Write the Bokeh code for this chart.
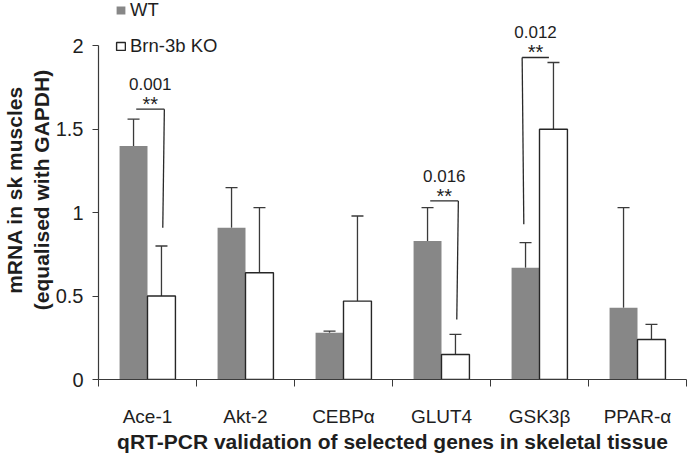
from bokeh.plotting import figure
from bokeh.models import (ColumnDataSource, Range1d, FixedTicker, Whisker, TeeHead,
                          Legend, LegendItem, LinearAxis)
from bokeh.core.properties import value
from bokeh.embed import file_html
from bokeh.resources import INLINE

# ---------------- data ----------------
genes = ["Ace-1", "Akt-2", "CEBPα", "GLUT4", "GSK3β", "PPAR-α"]
wt_mean = [1.40, 0.91, 0.28, 0.83, 0.67, 0.43]
wt_sd = [0.16, 0.24, 0.01, 0.20, 0.15, 0.60]
ko_mean = [0.50, 0.64, 0.47, 0.15, 1.50, 0.24]
ko_sd = [0.30, 0.39, 0.51, 0.12, 0.40, 0.09]
series_names = ["WT", "Brn-3b KO"]

y_ticks = [0, 0.5, 1, 1.5, 2]
y_tick_labels = ["0", "0.5", "1", "1.5", "2"]

sig_genes = ["Ace-1", "GLUT4", "GSK3β"]
sig_pvalues = ["0.001", "0.016", "0.012"]
sig_stars = ["**", "**", "**"]
sig_top = [1.62, 1.07, 1.93]
sig_bottom = [0.91, 0.36, 0.93]
sig_drop_side = ["KO", "KO", "WT"]

y_title = "mRNA in sk muscles\n(equalised with GAPDH)"
x_title = "qRT-PCR validation of selected genes in skeletal tissue"

# ---------------- styling ----------------
FONT = "Liberation Sans"
TXT = "#1e1e1e"
GREY = "#878787"
LINE = "#3a3a3a"
BAR_W = 0.285
HALF = BAR_W / 2

n = len(genes)
centers = [i + 0.5 for i in range(n)]

src = ColumnDataSource(dict(
    x_wt=[c - HALF for c in centers],
    x_ko=[c + HALF for c in centers],
    wt=wt_mean,
    ko=ko_mean,
    wt_hi=[m + s for m, s in zip(wt_mean, wt_sd)],
    ko_hi=[m + s for m, s in zip(ko_mean, ko_sd)],
))

p = figure(width=687, height=458, output_backend="svg", toolbar_location=None,
           x_range=Range1d(0, n), y_range=Range1d(0, 2.2715),
           x_axis_type=None, y_axis_type=None,
           min_border_left=92, min_border_right=1, min_border_top=0,
           min_border_bottom=79)
p.outline_line_color = None
p.background_fill_color = "white"
p.border_fill_color = "white"

r_wt = p.vbar(x="x_wt", top="wt", bottom=0, width=BAR_W, source=src,
              fill_color=GREY, line_color=None)
r_ko = p.vbar(x="x_ko", top="ko", bottom=0, width=BAR_W, source=src,
              fill_color="white", line_color="#262626", line_width=1.4)

for base, lo, hi in (("x_wt", "wt", "wt_hi"), ("x_ko", "ko", "ko_hi")):
    w = Whisker(source=src, base=base, lower=lo, upper=hi,
                line_color=LINE, line_width=1.3, lower_head=None,
                upper_head=TeeHead(size=12, line_color=LINE, line_width=1.3))
    p.add_layout(w)

# significance brackets
hx0, hx1, hy, vx0, vx1, vy0, vy1, mid = [], [], [], [], [], [], [], []
for g, top, bot, side in zip(sig_genes, sig_top, sig_bottom, sig_drop_side):
    c = centers[genes.index(g)]
    if side == "KO":
        a, b = c - 0.115, c + 0.172
        vt, vb = b, c + 0.156
    else:
        a, b = c - 0.177, c + 0.096
        vt, vb = a, c - 0.16
    hx0.append(a); hx1.append(b); hy.append(top)
    vx0.append(vt); vx1.append(vb); vy0.append(top); vy1.append(bot)
    mid.append((a + b) / 2)

p.segment(x0=hx0, y0=hy, x1=hx1, y1=hy, line_color="#2a2a2a", line_width=1.3)
p.segment(x0=vx0, y0=vy0, x1=vx1, y1=vy1, line_color="#2a2a2a", line_width=1.3)
p.text(x=mid, y=hy, text=sig_stars, text_align="center", text_baseline="alphabetic",
       y_offset=-5, text_font=value(FONT), text_font_size="20px", text_color=TXT)
p.text(x=mid, y=hy, text=sig_pvalues, text_align="center", text_baseline="alphabetic",
       y_offset=-25, text_font=value(FONT), text_font_size="17px", text_color=TXT)

# x axis: boundary ticks as minor ticks, labels at centres
xaxis = LinearAxis(ticker=FixedTicker(ticks=centers, minor_ticks=list(range(n + 1))))
xaxis.major_label_overrides = {c: g for c, g in zip(centers, genes)}
xaxis.major_tick_line_color = None
xaxis.minor_tick_out = 7
xaxis.minor_tick_in = 0
xaxis.minor_tick_line_color = LINE
xaxis.axis_line_color = LINE
xaxis.axis_line_width = 1.2
xaxis.major_label_text_font = FONT
xaxis.major_label_text_font_size = "19px"
xaxis.major_label_text_color = TXT
xaxis.major_label_standoff = 19
xaxis.axis_label = x_title
xaxis.axis_label_text_font = FONT
xaxis.axis_label_text_font_size = "21px"
xaxis.axis_label_text_font_style = "bold"
xaxis.axis_label_text_color = TXT
xaxis.axis_label_standoff = 0
p.add_layout(xaxis, "below")

yaxis = LinearAxis(ticker=FixedTicker(ticks=y_ticks), bounds=(0, 2))
yaxis.major_label_overrides = {t: l for t, l in zip(y_ticks, y_tick_labels)}
yaxis.major_tick_out = 6
yaxis.major_tick_in = 0
yaxis.minor_tick_line_color = None
yaxis.major_tick_line_color = LINE
yaxis.axis_line_color = LINE
yaxis.axis_line_width = 1.2
yaxis.major_label_text_font = FONT
yaxis.major_label_text_font_size = "20px"
yaxis.major_label_text_color = TXT
yaxis.major_label_standoff = 9
yaxis.axis_label = y_title
yaxis.axis_label_text_font = FONT
yaxis.axis_label_text_font_size = "21px"
yaxis.axis_label_text_font_style = "bold"
yaxis.axis_label_text_color = TXT
yaxis.axis_label_text_line_height = 1.15
yaxis.axis_label_standoff = 0
p.add_layout(yaxis, "left")

legend = Legend(items=[LegendItem(label=series_names[0], renderers=[r_wt]),
                       LegendItem(label=series_names[1], renderers=[r_ko])],
                location=(17, 379 - 57), orientation="vertical",
                glyph_width=11, glyph_height=10, label_height=10, spacing=14,
                label_standoff=4, padding=0, margin=0,
                border_line_color=None, background_fill_alpha=0,
                label_text_font=FONT, label_text_font_size="18.5px",
                label_text_color=TXT)
p.add_layout(legend)

open("out.html", "w").write(file_html(p, INLINE))
